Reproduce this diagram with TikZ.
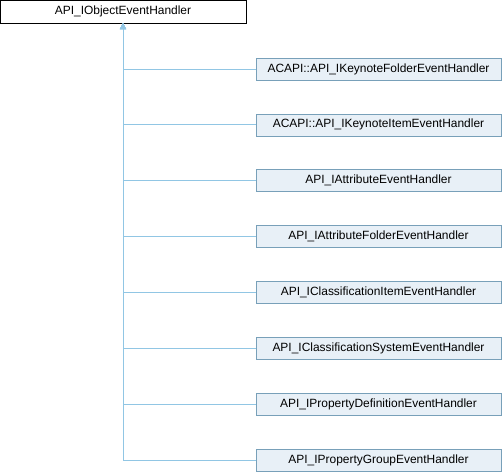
\documentclass[tikz,border=0pt]{standalone}
\usepackage{fontspec}
\setmainfont{Liberation Sans}
\usetikzlibrary{arrows.meta}
\definecolor{boxfill}{RGB}{232,240,247}
\definecolor{boxline}{RGB}{120,160,185}
\definecolor{edge}{RGB}{145,198,228}
\tikzset{
  basebox/.style={draw=black, fill=white, minimum width=246bp, minimum height=23bp, inner sep=0pt, font=\fontsize{12}{14}\selectfont},
  childbox/.style={draw=boxline, fill=boxfill, minimum width=245bp, minimum height=22bp, inner sep=0pt, font=\fontsize{12}{14}\selectfont},
  inherit/.style={draw=edge, line width=0.8bp, {Triangle[length=6bp,width=6bp]}-}
}
\begin{document}
\begin{tikzpicture}[x=1bp,y=-1bp]
\useasboundingbox (0,0) rectangle (502,472);
\node[basebox] (base) at (123,11.5) {API\_IObjectEventHandler};
\node[childbox] (c1) at (378.5,69) {ACAPI::API\_IKeynoteFolderEventHandler};
\node[childbox] (c2) at (378.5,124.9) {ACAPI::API\_IKeynoteItemEventHandler};
\node[childbox] (c3) at (378.5,180.7) {API\_IAttributeEventHandler};
\node[childbox] (c4) at (378.5,236.6) {API\_IAttributeFolderEventHandler};
\node[childbox] (c5) at (378.5,292.4) {API\_IClassificationItemEventHandler};
\node[childbox] (c6) at (378.5,348.3) {API\_IClassificationSystemEventHandler};
\node[childbox] (c7) at (378.5,404.1) {API\_IPropertyDefinitionEventHandler};
\node[childbox] (c8) at (378.5,460) {API\_IPropertyGroupEventHandler};
\foreach \c in {c1,c2,c3,c4,c5,c6,c7,c8}
  \draw[inherit] (base.south) |- (\c.west);
\end{tikzpicture}
\end{document}
